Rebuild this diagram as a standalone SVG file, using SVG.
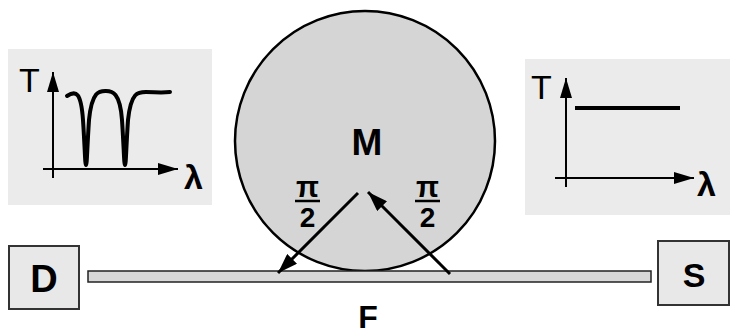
<svg xmlns="http://www.w3.org/2000/svg" width="731" height="335" viewBox="0 0 731 335">
<style>
.inset{fill:#ebebeb;stroke:none}
.box{fill:#e8e8e8;stroke:#333;stroke-width:2}
.lbl{font-family:"Liberation Sans",Arial,sans-serif;font-weight:bold;fill:#000}
.reg{font-family:"Liberation Sans",Arial,sans-serif;fill:#000}
.lam{font-family:"Liberation Sans",Arial,sans-serif;font-weight:bold;fill:#000}
.axis{stroke:#000;stroke-width:2;fill:none}
.arr{stroke:#000;stroke-width:3;fill:none}
</style>
<defs>
<marker id="big" viewBox="0 0 20 14" refX="20" refY="7" markerWidth="20" markerHeight="14" markerUnits="userSpaceOnUse" orient="auto">
<path d="M0,0 L20,7 L0,14 z" fill="#000"/>
</marker>
<marker id="ax" viewBox="0 0 20 12" refX="20" refY="6" markerWidth="20" markerHeight="12" markerUnits="userSpaceOnUse" orient="auto">
<path d="M0,0 L20,6 L0,12 z" fill="#000"/>
</marker>
</defs>
<rect width="731" height="335" fill="#fff"/>

<g id="inset-left">
<rect class="inset" x="8" y="49" width="204" height="156"/>
<line class="axis" x1="53" y1="178" x2="53" y2="72" marker-end="url(#ax)"/>
<line class="axis" x1="43" y1="169" x2="178" y2="169" marker-end="url(#ax)"/>
<path d="M67,96 C76,90 81,92 83,120 C85,150 85,165 86,165 C87,165 87,150 89,120 C92,90 100,91 106,91 C112,91 120,92 122,120 C124,150 124,165 125,165 C126,165 126,150 128,120 C131,92 138,92 146,92 C155,92 160,93 170,92" fill="none" stroke="#000" stroke-width="4" stroke-linecap="round"/>
<text class="reg" x="19" y="92" font-size="34">T</text>
<text class="lam" x="184" y="189" font-size="34">λ</text>
</g>

<g id="inset-right">
<rect class="inset" x="525" y="59" width="205" height="156"/>
<line class="axis" x1="566" y1="187" x2="566" y2="78" marker-end="url(#ax)"/>
<line class="axis" x1="555" y1="178" x2="694" y2="178" marker-end="url(#ax)"/>
<line x1="575" y1="108" x2="680" y2="108" stroke="#000" stroke-width="4"/>
<text class="reg" x="531" y="99" font-size="34">T</text>
<text class="lam" x="697" y="196" font-size="34">λ</text>
</g>

<g id="M">
<circle cx="365" cy="141" r="130" fill="#d5d5d5" stroke="#000" stroke-width="2.5"/>
<text class="lbl" x="367" y="155" font-size="37" text-anchor="middle">M</text>
</g>

<g id="F">
<rect x="88" y="271" width="563" height="11" fill="#d8d8d8" stroke="#222" stroke-width="1.5"/>
<text class="lbl" x="368" y="328" font-size="32" text-anchor="middle">F</text>
</g>

<g id="D">
<rect class="box" x="9" y="246" width="70" height="63"/>
<text class="lbl" x="44" y="292" font-size="38" text-anchor="middle">D</text>
</g>

<g id="S">
<rect class="box" x="658" y="241" width="71" height="64"/>
<text class="lbl" x="694" y="287" font-size="34" text-anchor="middle">S</text>
</g>

<g id="connectors">
<line class="arr" x1="358" y1="193" x2="278" y2="273" marker-end="url(#big)"/>
<line class="arr" x1="450" y1="274" x2="368" y2="192" marker-end="url(#big)"/>
</g>

<g id="label-left">
<text class="lbl" x="307.5" y="197" font-size="30" text-anchor="middle">π</text>
<line x1="295" y1="201" x2="320" y2="201" stroke="#000" stroke-width="2.5"/>
<text class="lbl" x="307.5" y="227" font-size="28" text-anchor="middle">2</text>
</g>
<g id="label-right">
<text class="lbl" x="427.5" y="197" font-size="30" text-anchor="middle">π</text>
<line x1="415" y1="201" x2="440" y2="201" stroke="#000" stroke-width="2.5"/>
<text class="lbl" x="427.5" y="227" font-size="28" text-anchor="middle">2</text>
</g>
</svg>
